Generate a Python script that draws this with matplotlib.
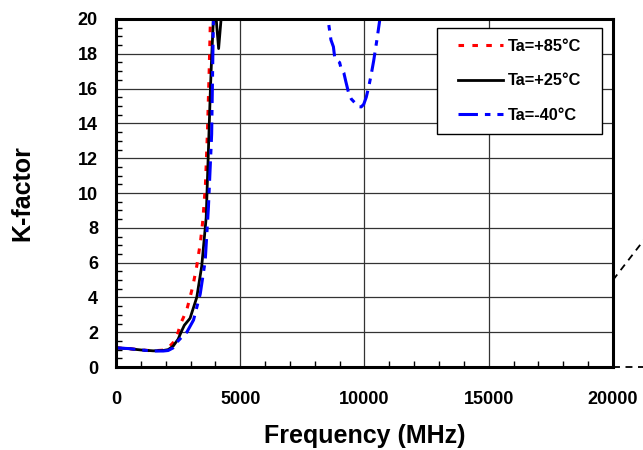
import matplotlib
matplotlib.use('Agg')
import matplotlib.pyplot as plt
from matplotlib.patches import Rectangle
from matplotlib.ticker import MultipleLocator

plt.rcParams['font.family'] = ['Liberation Sans', 'DejaVu Sans']
plt.rcParams['font.weight'] = 'bold'
plt.rcParams['lines.scale_dashes'] = False

# data
freq_85 = [0, 500, 1000, 1500, 1900, 2100, 2300, 2500, 2600, 2700, 2850, 2980,
           3100, 3250, 3400, 3500, 3600, 3680, 3750, 3800, 3850]
k_85 = [1.1, 1.06, 0.98, 0.93, 0.97, 1.1, 1.4, 2.0, 2.5, 2.8, 3.3, 4.0,
        4.7, 5.8, 7.2, 8.5, 10.5, 13.5, 17.0, 20.0, 22.0]

freq_25 = [0, 500, 1000, 1500, 1900, 2100, 2300, 2500, 2650, 2750, 2980, 3250,
           3450, 3630, 3720, 3800, 3850, 3920, 3980, 4060, 4130, 4200, 4290]
k_25 = [1.1, 1.06, 0.98, 0.93, 0.95, 1.0, 1.2, 1.6, 2.1, 2.4, 2.8, 4.0,
        5.8, 8.6, 12.5, 16.0, 17.8, 20.0, 21.0, 19.5, 18.3, 19.5, 21.0]

freq_m40 = [0, 500, 1000, 1500, 1900, 2100, 2300, 2500, 2700, 2850, 3120, 3390,
            3590, 3720, 3850, 3920, 3980, 6000, 8450, 8530, 8650, 8750, 8800,
            8900, 9000, 9050, 9170, 9250, 9370, 9470, 9570, 9670, 9770, 9870,
            9970, 10070, 10170, 10270, 10370, 10500, 10620, 10700]
k_m40 = [1.1, 1.06, 0.98, 0.92, 0.92, 0.95, 1.1, 1.5, 1.8, 2.0, 2.7, 4.2,
         6.1, 9.2, 13.4, 20.0, 21.0, 30.0, 21.0, 20.0, 18.8, 18.4, 17.8,
         17.6, 17.5, 17.2, 16.9, 16.4, 15.7, 15.4, 15.25, 15.1, 14.96, 14.95,
         15.1, 15.5, 16.1, 16.8, 17.6, 18.8, 20.0, 20.8]

labels = ['Ta=+85°C', 'Ta=+25°C', 'Ta=-40°C']

fig = plt.figure(figsize=(6.43, 4.5), dpi=100)
ax = fig.add_axes([0.1804, 0.1844, 0.7729, 0.7734])

ax.plot(freq_85, k_85, color='#ff0000', lw=2.2, dashes=(4, 6), label=labels[0])
ax.plot(freq_25, k_25, color='black', lw=2.0, label=labels[1])
ax.plot(freq_m40, k_m40, color='#0000ff', lw=2.2, dashes=(14, 5, 4, 5),
        label=labels[2])

ax.set_xlim(0, 20000)
ax.set_ylim(0, 20)
ax.xaxis.set_major_locator(MultipleLocator(5000))
ax.xaxis.set_minor_locator(MultipleLocator(1000))
ax.yaxis.set_major_locator(MultipleLocator(2))
ax.yaxis.set_minor_locator(MultipleLocator(0.5))
ax.grid(True, which='major', color='#333333', lw=0.9)
ax.set_axisbelow(True)
ax.tick_params(which='both', direction='in', top=False, right=False,
               labelsize=13, width=1.0)
ax.tick_params(axis='x', which='major', length=0, pad=17)
ax.tick_params(axis='y', which='major', length=0, pad=13)
ax.tick_params(which='minor', length=4)
for lab in ax.get_xticklabels() + ax.get_yticklabels():
    lab.set_fontweight('bold')
for sp in ax.spines.values():
    sp.set_linewidth(2.2)

ax.set_xlabel('Frequency (MHz)', fontsize=18, fontweight='bold', labelpad=12)
ax.set_ylabel('K-factor', fontsize=18, fontweight='bold', labelpad=31)

# legend box drawn separately so its padding matches the reference
box = Rectangle((0.646, 0.670), 0.332, 0.304, transform=ax.transAxes,
                facecolor='white', edgecolor='black', lw=1.0, zorder=4.9)
ax.add_patch(box)
leg = ax.legend(loc='center', bbox_to_anchor=(0.812, 0.822), frameon=False,
                borderaxespad=0, borderpad=0, fontsize=11.8, handlelength=2.75,
                labelspacing=1.2, handletextpad=0.3)
for t in leg.get_texts():
    t.set_fontweight('bold')

# dashed zoom guide lines running off the right edge
ax.plot([20000, 21300], [5.0, 7.4], color='black', lw=1.3, dashes=(5, 4),
        clip_on=False)
ax.plot([20000, 21300], [0, 0], color='black', lw=1.3, dashes=(5, 4),
        clip_on=False)

fig.savefig('out.png', dpi=100)
